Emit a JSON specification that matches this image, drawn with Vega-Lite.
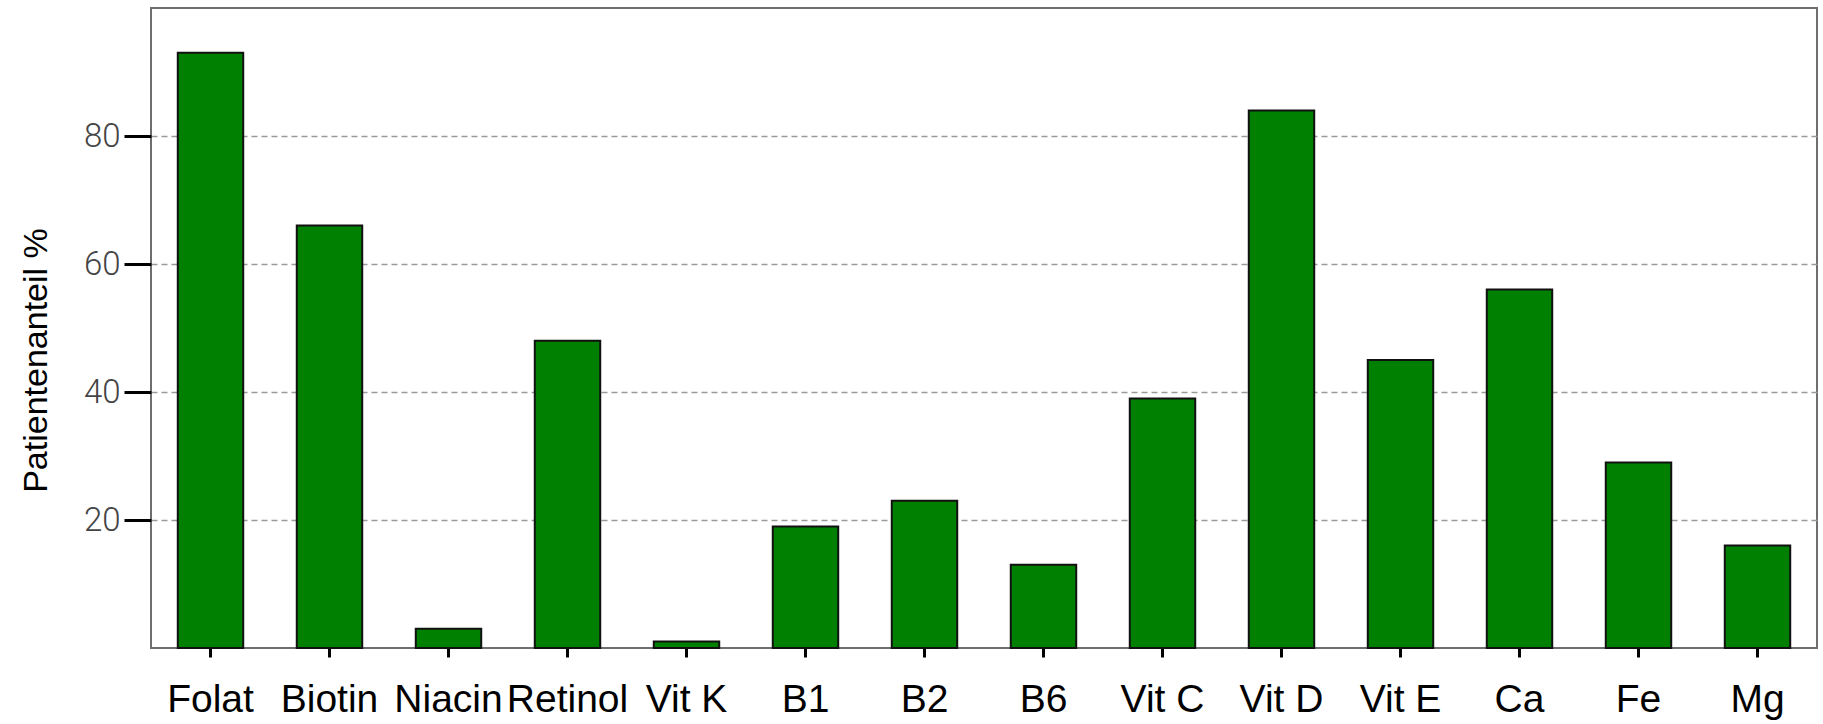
{
  "$schema": "https://vega.github.io/schema/vega-lite/v6.json",
  "autosize": {"type": "none"},
  "padding": {"left": 151, "top": 8, "right": 6, "bottom": 76},
  "width": 1666,
  "height": 640,
  "background": "white",
  "config": {
    "view": {"stroke": "#6e6e6e", "strokeWidth": 2}
  },
  "data": {
    "values": [
      {"naehrstoff": "Folat", "anteil": 93},
      {"naehrstoff": "Biotin", "anteil": 66},
      {"naehrstoff": "Niacin", "anteil": 3},
      {"naehrstoff": "Retinol", "anteil": 48},
      {"naehrstoff": "Vit K", "anteil": 1},
      {"naehrstoff": "B1", "anteil": 19},
      {"naehrstoff": "B2", "anteil": 23},
      {"naehrstoff": "B6", "anteil": 13},
      {"naehrstoff": "Vit C", "anteil": 39},
      {"naehrstoff": "Vit D", "anteil": 84},
      {"naehrstoff": "Vit E", "anteil": 45},
      {"naehrstoff": "Ca", "anteil": 56},
      {"naehrstoff": "Fe", "anteil": 29},
      {"naehrstoff": "Mg", "anteil": 16}
    ]
  },
  "mark": {"type": "bar", "fill": "#008000", "stroke": "#111111", "strokeWidth": 2},
  "encoding": {
    "x": {
      "field": "naehrstoff",
      "type": "nominal",
      "sort": null,
      "scale": {"paddingInner": 0.45, "paddingOuter": 0.225},
      "axis": {
        "title": null,
        "domain": false,
        "grid": false,
        "labelAngle": 0,
        "labelFont": "Liberation Sans",
        "labelFontSize": 39,
        "labelColor": "#000000",
        "labelPadding": 23,
        "labelDx": -9,
        "tickColor": "#000000",
        "tickSize": 9,
        "tickWidth": 3
      }
    },
    "y": {
      "field": "anteil",
      "type": "quantitative",
      "scale": {"domain": [0, 100], "nice": false, "zero": true},
      "axis": {
        "title": "Patientenanteil %",
        "titleFont": "Liberation Sans",
        "titleFontSize": 34,
        "titleFontWeight": "normal",
        "titleColor": "#000000",
        "titlePadding": 30,
        "titleY": 352,
        "values": [20, 40, 60, 80],
        "domain": false,
        "grid": true,
        "gridColor": "#9a9a9a",
        "gridDash": [6, 4],
        "gridWidth": 1.5,
        "tickColor": "#000000",
        "tickSize": 27,
        "tickWidth": 3,
        "labelFont": "Roboto",
        "labelFontWeight": 300,
        "labelFontSize": 33,
        "labelColor": "#444444",
        "labelPadding": 4
      }
    }
  }
}
